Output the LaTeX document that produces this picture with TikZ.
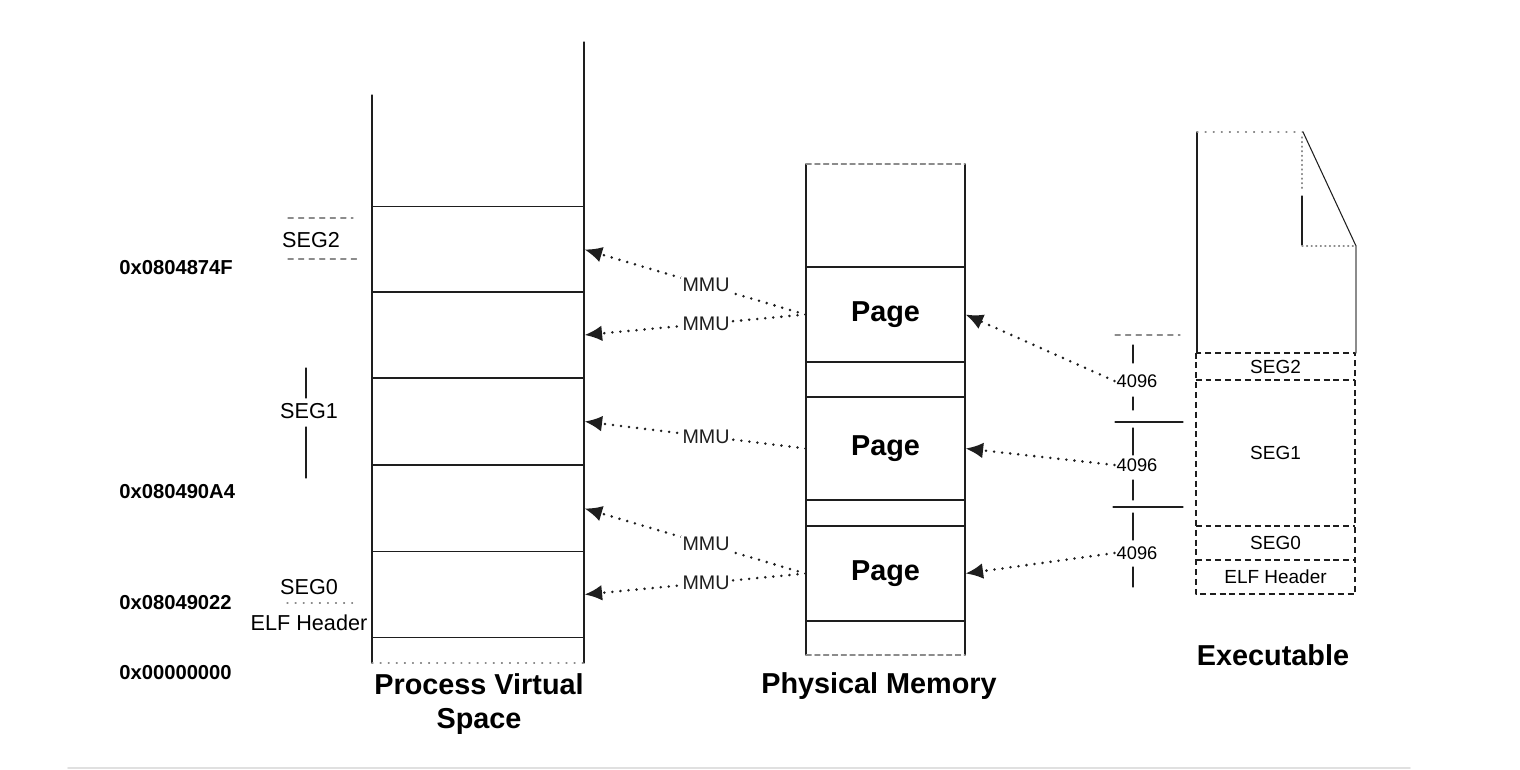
\documentclass[tikz,border=0pt]{standalone}
\usepackage{fontspec}
\setmainfont{Liberation Sans}
\usepackage{tikz}
\usetikzlibrary{arrows.meta,positioning}
\definecolor{ink}{HTML}{1E1E1E}
\definecolor{faint}{HTML}{8C8C8C}
\tikzset{
  Edge/.style={draw=ink, line width=0.6pt},
  Slot/.style={Edge, minimum width=4.24cm, minimum height=1.72cm, inner sep=0pt},
  PageBox/.style={Edge, minimum width=3.18cm, inner sep=0pt,
    font=\fontsize{16.4}{18}\selectfont\bfseries},
  SegBox/.style={minimum width=3.18cm, inner sep=0pt, font=\fontsize{10.8}{12}\selectfont},
  SegLine/.style={draw=ink, line width=1.1pt, line cap=butt, dash pattern=on 3.4pt off 2.2pt},
  MapArrow/.style={ink, line width=1.6pt, line cap=round,
    dash pattern=on 0pt off 4.6pt, -{Latex[length=10pt,width=9pt]}},
  MmuLbl/.style={fill=white, inner sep=1pt, font=\fontsize{11.2}{12}\selectfont},
  SizeLbl/.style={inner sep=1pt, font=\fontsize{10.4}{12}\selectfont},
  SegLbl/.style={inner sep=0pt, font=\fontsize{12.3}{14}\selectfont},
  Addr/.style={anchor=west, inner sep=0pt, font=\fontsize{11.5}{13}\selectfont\bfseries},
  Title/.style={align=center, inner sep=0pt, font=\fontsize{16.4}{19.3}\selectfont\bfseries}
}

\begin{document}
\begin{tikzpicture}[x=0.02cm, y=-0.02cm, line cap=round, line join=round]
  \useasboundingbox (0,0) rectangle (1520,770);

  % process virtual space
  \draw[Edge] (372,95) -- (372,663);
  \draw[Edge] (584,42) -- (584,663);
  \node[Slot] (vs1) at (478,249.5) {};
  \node[Slot] (vs2) at (478,335) {};
  \node[Slot] (vs3) at (478,421.5) {};
  \node[Slot] (vs4) at (478,508.5) {};
  \node[Slot] (vs5) at (478,594.5) {};
  \draw[Edge, faint, loosely dotted] (372,663) -- (584,663);

  \node[Addr] (addr1) at (119,268) {0x0804874F};
  \node[Addr] (addr2) at (119,492) {0x080490A4};
  \node[Addr] (addr3) at (119,603) {0x08049022};
  \node[Addr] (addr4) at (119,673) {0x00000000};

  \node[SegLbl] (lseg2) at (311,240) {SEG2};
  \node[SegLbl] (lseg1) at (309,411) {SEG1};
  \node[SegLbl] (lseg0) at (309,587) {SEG0};
  \node[SegLbl] (lelf) at (309,623) {ELF Header};
  \draw[Edge, faint, dashed] (288,218) -- (353,218);
  \draw[Edge, faint, dashed] (288,259) -- (357,259);
  \draw[Edge] (306,368) -- (306,398);
  \draw[Edge] (306,427) -- (306,478);
  \draw[Edge, faint, loosely dotted] (287,603) -- (353,603);

  % physical memory
  \draw[Edge] (806,164) -- (806,655);
  \draw[Edge] (965,164) -- (965,655);
  \draw[Edge, faint, densely dashed] (806,164) -- (965,164);
  \draw[Edge, faint, densely dashed] (806,655) -- (965,655);
  \node[PageBox, minimum height=1.9cm] (pg1) at (885.5,314.5) {Page};
  \node[PageBox, minimum height=2.06cm] (pg2) at (885.5,448.5) {Page};
  \node[PageBox, minimum height=1.9cm] (pg3) at (885.5,573.5) {Page};

  % executable file
  \draw[Edge] (1197,132) -- (1197,353);
  \draw[Edge, faint, loosely dotted] (1197,132) -- (1303,132);
  \draw[Edge] (1303,132) -- (1356,246);
  \draw[Edge, faint] (1356,246) -- (1356,353);
  \draw[Edge, faint, dotted] (1302,137) -- (1302,190);
  \draw[Edge] (1302,196) -- (1302,245);
  \draw[Edge, faint, dotted] (1302,246) -- (1356,246);
  \node[SegBox, minimum height=0.54cm] (xseg2) at (1275.5,366.5) {SEG2};
  \node[SegBox, minimum height=2.92cm] (xseg1) at (1275.5,453) {SEG1};
  \node[SegBox, minimum height=0.68cm] (xseg0) at (1275.5,543) {SEG0};
  \node[SegBox, minimum height=0.68cm] (xelf) at (1275.5,577) {ELF Header};
  \draw[SegLine] (xseg2.north west) rectangle (xelf.south east);
  \foreach \s in {xseg2, xseg1, xseg0}
    \draw[SegLine] (\s.south west) -- (\s.south east);

  \node[SizeLbl] (sz1) at (1137,381) {4096};
  \node[SizeLbl] (sz2) at (1137,465) {4096};
  \node[SizeLbl] (sz3) at (1137,553) {4096};
  \draw[Edge, faint, dashed] (1115,335) -- (1180,335);
  \draw[Edge] (1115,422) -- (1183,422);
  \draw[Edge] (1113,507) -- (1183,507);
  \foreach \ya/\yb in {345/363, 397/410, 428/455, 480/500, 513/540, 567/587}
    \draw[Edge] (1133,\ya) -- (1133,\yb);

  % mappings
  \draw[MapArrow] (pg1.west) -- node[MmuLbl, pos=0.45] {MMU} (vs1.east);
  \draw[MapArrow] (pg1.west) -- node[MmuLbl, pos=0.45] {MMU} (vs2.east);
  \draw[MapArrow] (pg2.west) -- node[MmuLbl, pos=0.45] {MMU} (vs3.east);
  \draw[MapArrow] (pg3.west) -- node[MmuLbl, pos=0.45] {MMU} (vs4.east);
  \draw[MapArrow] (pg3.west) -- node[MmuLbl, pos=0.45] {MMU} (vs5.east);
  \draw[MapArrow] (sz1.west) -- (pg1.east);
  \draw[MapArrow] (sz2.west) -- (pg2.east);
  \draw[MapArrow] (sz3.west) -- (pg3.east);

  \node[Title] (tpvs) at (479,704) {Process Virtual\\Space};
  \node[Title] (tphys) at (879,686) {Physical Memory};
  \node[Title] (texe) at (1273,655) {Executable};

  \draw[black!12, line width=1pt] (68,768) -- (1410,768);
\end{tikzpicture}
\end{document}
